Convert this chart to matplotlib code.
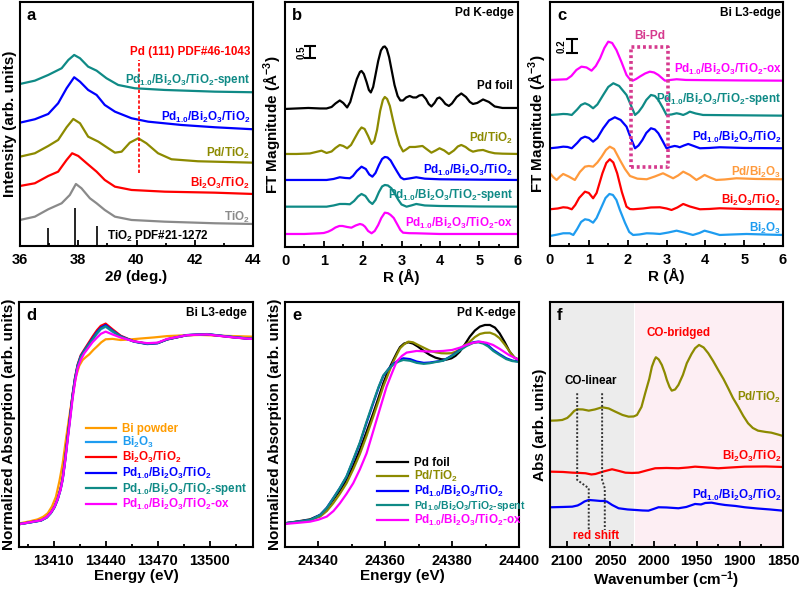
import matplotlib
matplotlib.use("Agg")
import matplotlib.pyplot as plt
from matplotlib.ticker import MultipleLocator

plt.rcParams['font.family'] = ['Liberation Sans', 'DejaVu Sans']
plt.rcParams['font.weight'] = 'bold'
plt.rcParams['mathtext.fontset'] = 'custom'
plt.rcParams['mathtext.rm'] = 'Liberation Sans:bold'
plt.rcParams['mathtext.bf'] = 'Liberation Sans:bold'
plt.rcParams['mathtext.it'] = 'Liberation Sans:italic:bold'
plt.rcParams['mathtext.default'] = 'bf'

PD_BI = r'Pd$_{1.0}$/Bi$_2$O$_3$/TiO$_2$'
BI_TI = r'Bi$_2$O$_3$/TiO$_2$'
PD_TI = r'Pd/TiO$_2$'
TIO2 = r'TiO$_2$'

C_TEAL = '#0f8a86'
C_OLIVE = '#8c8a00'
C_BLUE = '#0000ff'
C_RED = '#ff0000'
C_MAG = '#ff00ff'
C_GRAY = '#8a8a8a'
C_LBLUE = '#1e9cf0'
C_ORANGE = '#ff9a3c'
C_BIPOW = '#ff9c00'
C_BOX = '#d63a8e'

# ---------------- a: XRD ----------------
xrd_tio2_x = [36.0, 36.51, 36.97, 37.43, 37.71, 37.92, 38.11, 38.4, 38.63, 38.91, 39.26, 39.83, 40.97, 42.69, 44.0]
xrd_tio2_y = [26, 29.3, 36.7, 42.7, 51, 62, 57.7, 47.7, 42.7, 36, 29.3, 26, 24.3, 22.7, 22]
xrd_biti_x = [36.0, 36.51, 36.97, 37.31, 37.6, 37.79, 38.0, 38.29, 38.63, 38.91, 39.26, 39.83, 40.97, 42.69, 44.0]
xrd_biti_y = [60, 62.7, 70, 74.3, 86, 92.7, 90, 82.7, 74.3, 66, 59.3, 56, 54.3, 53.3, 52]
xrd_pdti_x = [36.0, 36.51, 36.97, 37.31, 37.6, 37.83, 38.06, 38.34, 38.69, 39.03, 39.26, 39.49, 39.77, 40.06, 40.34, 40.74, 41.2, 42.11, 44.0]
xrd_pdti_y = [89.3, 92.7, 100, 106, 118.7, 127, 122.7, 109.3, 104.3, 97.7, 93.3, 94.3, 103.3, 107.7, 102.7, 92.7, 86.7, 84.7, 83.3]
xrd_pdbi_x = [36.0, 36.51, 36.97, 37.31, 37.6, 37.86, 38.06, 38.34, 38.63, 38.91, 39.26, 39.83, 40.4, 41.54, 42.69, 44.0]
xrd_pdbi_y = [123.3, 126.7, 132, 142.7, 157.7, 168.7, 164.3, 156, 151, 141, 134.3, 127.7, 124.3, 121, 118.7, 116.7]
xrd_spent_x = [36.0, 36.51, 36.97, 37.43, 37.66, 37.86, 38.06, 38.34, 38.63, 38.97, 39.37, 39.94, 40.97, 42.69, 44.0]
xrd_spent_y = [162, 165.3, 171, 177.7, 186, 191, 187.7, 179.3, 175.3, 167.7, 161, 157.7, 156, 154.3, 153.7]
tio2_ref_pos = [36.97, 37.9, 38.65]
tio2_ref_h = [18, 38, 20]
pd111_pos = 40.1

# ---------------- b: Pd K-edge FT ----------------
b_foil_x = [0, 0.3, 0.6, 0.9, 1.07, 1.2, 1.3, 1.41, 1.5, 1.6, 1.68, 1.76, 1.85, 1.93, 1.97, 2.03, 2.1, 2.16, 2.21,
            2.27, 2.33, 2.4, 2.47, 2.53, 2.57, 2.62, 2.68, 2.75, 2.82, 2.9, 2.97, 3.04, 3.12, 3.21, 3.3, 3.38, 3.46,
            3.54, 3.63, 3.7, 3.77, 3.85, 3.92, 3.98, 4.05, 4.13, 4.22, 4.3, 4.42, 4.54, 4.66, 4.76, 4.84, 4.95, 5.1,
            5.25, 5.4, 5.6, 5.8, 6.0]
b_foil_y = [138, 138.5, 139, 138.5, 138.5, 140, 143.5, 146.5, 144, 139.5, 145, 156, 168, 175, 176, 173, 165, 157, 154.5,
            160, 172, 186, 196.5, 200, 200.5, 198, 190, 176, 162, 151, 146.5, 146.5, 149.5, 151, 149.5, 149.5, 151.5,
            152, 148, 143, 140.5, 144, 148.5, 149.5, 147, 143, 141, 143.5, 150, 153.5, 150, 145, 143, 144, 147.5,
            145, 140.5, 139, 139, 139]
b_pdti_x = [0, 0.3, 0.64, 0.8, 0.94, 1.07, 1.2, 1.3, 1.41, 1.5, 1.6, 1.7, 1.8, 1.9, 1.97, 2.05, 2.14, 2.23, 2.3, 2.37,
            2.45, 2.52, 2.57, 2.63, 2.7, 2.78, 2.86, 2.95, 3.04, 3.12, 3.21, 3.35, 3.54, 3.66, 3.77, 3.88, 3.98, 4.1,
            4.22, 4.35, 4.45, 4.54, 4.65, 4.75, 4.84, 4.97, 5.1, 5.25, 5.4, 5.6, 6.0]
b_pdti_y = [93, 93, 93.5, 95, 96.3, 94, 95.5, 99, 102, 101, 98.7, 102, 109, 116, 119.5, 118, 111, 103, 106, 117,
            136, 147, 150, 148, 141, 127, 114, 102, 95.5, 97.5, 100, 100, 101, 97.5, 94.3, 96.5, 98.7, 96.5,
            93, 96.5, 100.5, 102, 100, 97, 95.3, 96.5, 97, 95, 93.7, 93.3, 93]
b_pdbi_x = [0, 0.5, 1.07, 1.25, 1.41, 1.55, 1.67, 1.75, 1.85, 1.97, 2.08, 2.17, 2.25, 2.33, 2.42, 2.5, 2.57, 2.64,
            2.72, 2.8, 2.9, 2.98, 3.06, 3.2, 3.38, 3.6, 3.98, 4.5, 5.0, 6.0]
b_pdbi_y = [67, 67, 67, 68, 69.7, 69, 68.7, 71, 76, 80.3, 78, 72.5, 70.3, 74, 82, 88, 90, 89.5,
            86.5, 81, 74.5, 69.5, 67.7, 68.5, 69.7, 68.3, 67.7, 67.5, 67.3, 67]
b_spent_x = [0, 0.5, 1.07, 1.25, 1.41, 1.55, 1.67, 1.78, 1.88, 1.97, 2.07, 2.17, 2.25, 2.33, 2.42, 2.5, 2.57, 2.65,
             2.74, 2.83, 2.92, 3.0, 3.13, 3.25, 3.38, 3.6, 3.98, 5.0, 6.0]
b_spent_y = [40.3, 40.3, 40.3, 41.5, 43, 43, 42.7, 46, 50.5, 53, 51, 45.5, 43, 47, 55, 60.5, 62, 61.5,
             58.7, 53, 47, 42.5, 40.3, 41.5, 43, 41.5, 41, 40.5, 40.3]
b_ox_x = [0, 0.5, 0.9, 1.0, 1.11, 1.2, 1.3, 1.4, 1.48, 1.6, 1.71, 1.82, 1.93, 2.0, 2.06, 2.14, 2.23, 2.31, 2.4,
          2.48, 2.57, 2.65, 2.72, 2.8, 2.9, 2.97, 3.04, 3.2, 3.38, 3.98, 6.0]
b_ox_y = [13, 13, 13.7, 14, 15.3, 17, 19.5, 21, 21, 20, 19.3, 21.5, 23, 22.2, 20.3, 16, 13.7, 16, 22,
          29, 34.3, 33.8, 32, 29, 22, 17, 14.3, 13.8, 13.7, 13, 13]

# ---------------- c: Bi L3-edge FT ----------------
c_bi2o3_x = [0, 0.2, 0.34, 0.51, 0.6, 0.7, 0.8, 0.9, 1.0, 1.11, 1.2, 1.33, 1.43, 1.53, 1.62, 1.71, 1.8, 1.93, 2.04,
             2.14, 2.3, 2.49, 2.65, 2.83, 3.05, 3.26, 3.45, 3.68, 3.85, 3.98, 4.15, 4.37, 4.7, 5.06, 5.5, 6.0]
c_bi2o3_y = [10, 11.5, 12.7, 12.7, 11, 17, 24, 26.7, 26, 23.3, 28, 39.3, 48, 52, 51, 46, 36, 23.3, 14,
             11, 11.5, 12.7, 12.5, 12, 13.5, 15.3, 13.5, 11, 13, 15.3, 13.5, 11, 11.5, 12, 11.5, 11]
c_biti_x = [0, 0.2, 0.34, 0.45, 0.56, 0.65, 0.75, 0.9, 1.0, 1.11, 1.2, 1.35, 1.45, 1.54, 1.63, 1.73, 1.85, 1.97,
            2.06, 2.14, 2.4, 2.6, 2.83, 3.0, 3.13, 3.28, 3.43, 3.6, 3.86, 4.1, 4.37, 5.0, 6.0]
c_biti_y = [36.7, 37.5, 38.7, 38.3, 36.7, 41, 48, 54.3, 53, 47.7, 53, 72.7, 83, 86.7, 83.5, 72.7, 54, 39.3,
            36.9, 36.7, 37.5, 38.5, 38.7, 37.5, 36, 38.5, 42, 39.5, 36.7, 37, 37.7, 37, 36.7]
c_pdbi2o3_x = [0, 0.08, 0.17, 0.26, 0.34, 0.48, 0.64, 0.77, 0.9, 1.0, 1.11, 1.22, 1.33, 1.44, 1.54, 1.65, 1.8, 1.93,
               2.06, 2.25, 2.49, 2.7, 2.91, 3.05, 3.17, 3.3, 3.43, 3.6, 3.77, 3.88, 3.98, 4.12, 4.28, 4.5, 4.8,
               5.3, 6.0]
c_pdbi2o3_y = [72.7, 69, 66, 69.5, 72, 69.5, 66, 74, 79.3, 80, 79.3, 83.5, 89.3, 96, 99.3, 97, 86, 77,
               70, 67.3, 66.7, 69.5, 72.7, 70, 67.7, 70.5, 74.3, 71, 66, 68.5, 71, 68.5, 66, 66.5, 67.7,
               67, 66.7]
c_pdbi_x = [0, 0.2, 0.34, 0.45, 0.56, 0.7, 0.8, 0.9, 1.0, 1.11, 1.22, 1.37, 1.52, 1.67, 1.82, 1.97, 2.08, 2.19, 2.28,
            2.38, 2.48, 2.6, 2.7, 2.79, 2.9, 3.0, 3.1, 3.21, 3.28, 3.34, 3.45, 3.56, 3.7, 3.86, 4.1, 4.37, 5.0, 6.0]
c_pdbi_y = [97.7, 98.5, 99.3, 99, 97.7, 103, 107.5, 109.3, 108, 104.3, 108, 117.7, 125.5, 128.7, 126, 119.3, 108,
            97.7, 100.5, 106, 113, 117.7, 116.5, 112.7, 105, 97.7, 99, 100, 99.5, 98.7, 100.5, 102, 100, 97.7, 98,
            98.7, 98, 97.7]
c_spent_x = [0, 0.2, 0.34, 0.45, 0.56, 0.7, 0.8, 0.9, 1.0, 1.11, 1.22, 1.37, 1.5, 1.63, 1.78, 1.97, 2.08, 2.19, 2.28,
             2.38, 2.48, 2.6, 2.7, 2.79, 2.9, 3.0, 3.13, 3.26, 3.35, 3.43, 3.52, 3.6, 3.75, 3.94, 4.5, 6.0]
c_spent_y = [131, 131.5, 132, 131.8, 131, 136.5, 141, 142.7, 141, 137.7, 141.5, 151, 159, 162.7, 160, 151, 141, 131,
             134, 139.3, 146, 151, 150, 146, 138.5, 131, 131.5, 132.7, 132, 131, 132.5, 134.3, 132.5, 131, 130.8,
             130.3]
c_ox_x = [0, 0.2, 0.43, 0.55, 0.68, 0.81, 0.94, 1.07, 1.18, 1.29, 1.4, 1.5, 1.6, 1.71, 1.84, 1.97, 2.05, 2.13, 2.22,
          2.31, 2.45, 2.57, 2.68, 2.79, 2.88, 2.96, 3.1, 3.26, 3.5, 4.0, 5.0, 6.0]
c_ox_y = [166, 166.3, 166.7, 170, 176, 179.3, 178.5, 175.3, 180, 187.7, 198, 204.3, 203, 196, 184, 171, 167, 165.3,
          167, 169.3, 172.5, 174.3, 173.5, 171, 168, 165.3, 166, 166.7, 166, 165.8, 165.5, 165.3]
bipd_box_x = [2.08, 3.04]
bipd_box_y = [79.3, 199.3]

# ---------------- d: Bi L3 XANES ----------------
d_bipow_x = [13390.6, 13396, 13400.8, 13404, 13406.6, 13409, 13411.3, 13413.3, 13415.2, 13417, 13419.0, 13421,
             13422.8, 13424.8, 13426.7, 13428.5, 13430.5, 13433, 13435.3, 13437.5, 13440.0, 13444, 13448.7, 13454,
             13460.2, 13468, 13475.5, 13485, 13494.7, 13510, 13525]
d_bipow_y = [0.0, 0.01, 0.021, 0.035, 0.054, 0.09, 0.142, 0.225, 0.321, 0.445, 0.571, 0.69, 0.785, 0.845, 0.875,
             0.89, 0.905, 0.93, 0.95, 0.97, 0.986, 0.988, 0.982, 0.985, 0.99, 0.996, 1.003, 1.007, 1.009, 1.004, 1.0]
d_x = [13390.6, 13396, 13402.7, 13406, 13408.4, 13410.5, 13412.3, 13414, 13415.2, 13416.6, 13418.0, 13419.5,
       13420.9, 13422.3, 13423.8, 13425.6, 13427.6, 13430, 13432.4, 13435, 13437.2, 13440.0, 13443.9, 13448.7,
       13456.3, 13464.0, 13470, 13475.5, 13487.0, 13498.5, 13506, 13513.8, 13523.4, 13525]
d_bi2o3_y = [-0.004, 0.004, 0.014, 0.03, 0.054, 0.085, 0.125, 0.18, 0.232, 0.33, 0.446, 0.565, 0.678, 0.77, 0.839,
             0.89, 0.919, 0.95, 0.982, 1.015, 1.039, 1.053, 1.026, 1.0, 0.973, 0.96, 0.965, 0.986, 1.009, 1.014,
             1.006, 0.998, 0.99, 0.99]
d_biti_y = [-0.004, 0.005, 0.016, 0.033, 0.058, 0.09, 0.132, 0.188, 0.245, 0.345, 0.462, 0.58, 0.69, 0.78, 0.85,
            0.9, 0.93, 0.965, 1.0, 1.035, 1.058, 1.07, 1.04, 1.005, 0.975, 0.962, 0.966, 0.985, 1.008, 1.012, 1.004,
            0.996, 0.988, 0.988]
d_pdbi_y = [-0.004, 0.004, 0.015, 0.032, 0.056, 0.088, 0.13, 0.185, 0.24, 0.34, 0.455, 0.573, 0.685, 0.775, 0.845,
            0.895, 0.925, 0.958, 0.99, 1.025, 1.048, 1.062, 1.033, 1.002, 0.974, 0.961, 0.965, 0.985, 1.008, 1.013,
            1.005, 0.997, 0.988, 0.988]
d_spent_y = [-0.004, 0.004, 0.015, 0.031, 0.055, 0.086, 0.128, 0.183, 0.238, 0.337, 0.452, 0.57, 0.683, 0.773, 0.843,
             0.892, 0.922, 0.955, 0.985, 1.02, 1.043, 1.056, 1.03, 1.001, 0.974, 0.962, 0.966, 0.986, 1.008, 1.013,
             1.005, 0.997, 0.989, 0.989]
d_ox_y = [-0.004, 0.005, 0.016, 0.033, 0.057, 0.088, 0.13, 0.18, 0.236, 0.33, 0.44, 0.555, 0.665, 0.755, 0.83,
          0.875, 0.91, 0.94, 0.97, 0.995, 1.015, 1.027, 1.012, 0.995, 0.975, 0.965, 0.968, 0.988, 1.008, 1.012,
          1.004, 0.996, 0.988, 0.988]

# ---------------- e: Pd K XANES ----------------
e_x = [24330, 24334, 24337.5, 24340.5, 24342.5, 24344.4, 24346.4, 24348.4, 24350.4, 24352.4, 24354.4, 24356.4,
       24358, 24359.4, 24361, 24362.4, 24363.5, 24364.4, 24365.6, 24366.9, 24368.3, 24369.8, 24371.5, 24373.3,
       24375, 24376.8, 24378.3, 24379.8, 24381, 24382.3, 24383.8, 24385.3, 24386.8, 24388.3, 24389.8, 24391.3,
       24392.8, 24394.2, 24395.7, 24397.2, 24398.6, 24400]
e_foil_y = [0.0, 0.012, 0.024, 0.051, 0.09, 0.143, 0.2, 0.265, 0.35, 0.449, 0.56, 0.674, 0.77, 0.857, 0.94, 1.0,
            1.045, 1.078, 1.1, 1.108, 1.1, 1.081, 1.055, 1.031, 1.014, 1.004, 1.002, 1.01, 1.025, 1.051, 1.095,
            1.143, 1.18, 1.204, 1.214, 1.214, 1.198, 1.163, 1.11, 1.051, 1.015, 1.0]
e_pdti_y = [0.0, 0.01, 0.02, 0.041, 0.075, 0.122, 0.18, 0.245, 0.33, 0.424, 0.535, 0.653, 0.75, 0.837, 0.92, 0.99,
            1.035, 1.071, 1.095, 1.112, 1.108, 1.092, 1.075, 1.057, 1.047, 1.041, 1.04, 1.041, 1.05, 1.065, 1.09,
            1.112, 1.14, 1.159, 1.166, 1.167, 1.155, 1.133, 1.095, 1.051, 1.015, 1.0]
e_pdbi_x = [24330, 24334, 24337.5, 24340.5, 24342.5, 24344.4, 24346.4, 24348.4, 24350.4, 24352.4, 24354.4, 24356.4,
            24358, 24359.4, 24361, 24362.4, 24364, 24365.4, 24367.4, 24369.4, 24371.5, 24373.3, 24375.3, 24377.3,
            24379.8, 24382.3, 24384.3, 24386.3, 24387.8, 24389.3, 24390.8, 24392.3, 24394.2, 24396.2, 24398, 24400]
e_pdbi_y = [0.0, 0.01, 0.02, 0.051, 0.095, 0.153, 0.215, 0.285, 0.385, 0.49, 0.615, 0.735, 0.83, 0.902, 0.945, 0.976,
            0.998, 1.01, 1.005, 0.99, 0.982, 0.984, 0.99, 0.996, 1.025, 1.061, 1.09, 1.108, 1.112, 1.106, 1.088,
            1.061, 1.035, 1.01, 0.996, 0.99]
e_spent_y = [0.0, 0.01, 0.02, 0.05, 0.094, 0.152, 0.216, 0.287, 0.39, 0.495, 0.622, 0.742, 0.835, 0.905, 0.945, 0.972,
             0.99, 1.0, 0.995, 0.982, 0.976, 0.98, 0.988, 0.995, 1.022, 1.058, 1.085, 1.104, 1.108, 1.1, 1.082,
             1.055, 1.03, 1.005, 0.993, 0.988]
e_ox_x = [24330, 24334, 24337.5, 24340, 24342.5, 24344.5, 24346.4, 24348.4, 24350.4, 24352.4, 24354.4, 24355.9,
          24357.4, 24358.9, 24360.4, 24362, 24363.4, 24365, 24366.4, 24369.4, 24373.3, 24377.3, 24380, 24382.3,
          24384.3, 24386.3, 24388.3, 24390.3, 24392.2, 24394.2, 24397, 24400]
e_ox_y = [-0.004, 0.003, 0.01, 0.022, 0.041, 0.075, 0.122, 0.18, 0.245, 0.33, 0.428, 0.53, 0.633, 0.735, 0.837,
          0.92, 0.99, 1.025, 1.045, 1.055, 1.051, 1.055, 1.061, 1.075, 1.092, 1.105, 1.112, 1.105, 1.092, 1.068,
          1.03, 1.0]

# ---------------- f: CO-DRIFTS ----------------
f_pdti_x = [2119.2, 2112, 2105.8, 2100, 2096.2, 2092, 2088.5, 2082, 2075.1, 2068, 2059.6, 2052, 2044.3, 2036,
            2028.9, 2023, 2019.2, 2014, 2009.7, 2005, 2001.9, 1999, 1997.3, 1994, 1990.4, 1987, 1984.6, 1981.5,
            1978.9, 1975, 1971.2, 1966, 1961.5, 1956, 1951.9, 1947.3, 1942, 1936.6, 1931, 1925.1, 1919, 1913.5,
            1908, 1902.0, 1896, 1890.5, 1885, 1879.0, 1870, 1863.6, 1856, 1850.2]
f_pdti_y = [126.3, 126.5, 127, 129, 132, 136, 137.7, 137.5, 136.3, 137.5, 139.7, 138.5, 135.3, 132,
            130.3, 130.5, 132, 140, 153.7, 168, 180.3, 187, 189.7, 187.5, 182, 174, 167, 160,
            156.3, 157.5, 162, 172, 183.7, 193, 198.7, 202, 199.5, 193.7, 186, 177, 168, 158.7,
            149, 140.3, 131, 123.7, 119, 116.3, 115, 114.3, 112.5, 111]
f_biti_x = [2119.2, 2105, 2094.2, 2085, 2078.9, 2072, 2067.3, 2058, 2048.1, 2040, 2032.7, 2025, 2017.4, 2008, 1998.1,
            1985, 1971.2, 1960, 1951.9, 1938, 1925.1, 1910, 1894.3, 1870, 1850.2]
f_biti_y = [75.3, 75, 74.3, 74, 73.7, 72.5, 73, 75.5, 77.7, 76, 74.3, 74, 74.3, 76.5, 78.7,
            79, 78.7, 79.5, 80.3, 79.5, 78.7, 79.5, 80.3, 80.5, 80]
f_pdbi_x = [2119.2, 2105, 2094.2, 2088, 2084.6, 2080, 2075.1, 2068, 2061.6, 2057, 2053.9, 2048, 2040.5, 2030, 2021.2,
            2013, 2005.9, 2000, 1994.3, 1985, 1971.2, 1962, 1951.9, 1945, 1940, 1932.7, 1925, 1917.3, 1905, 1894.3,
            1880, 1865, 1850.2]
f_pdbi_y = [39.7, 40, 40.3, 41.5, 43, 45.5, 47, 46.5, 46, 46, 45.3, 42, 38.7, 37.5, 37,
            36.5, 36.3, 38, 39.7, 39.5, 38.7, 40, 43, 42.5, 44, 44.3, 43, 42, 41, 39.7,
            38.5, 37.5, 36.3]
linear_guide1_x = [2088.5, 2088.5, 2075.1, 2075.1]
linear_guide2_x = [2059.6, 2059.6, 2056.5, 2056.5]
linear_guide_y = [153.7, 67, 58.7, 17]
gray_band = (2120, 2023)
pink_band = (2021, 1850)


def style_axis(ax, letter, xlabel, ylabel):
    for sp in ax.spines.values():
        sp.set_linewidth(1.5)
    ax.tick_params(axis='x', which='both', direction='in', labelsize=10.5, width=1.3)
    ax.tick_params(axis='x', which='major', length=4, pad=5)
    ax.tick_params(axis='x', which='minor', length=2.5)
    ax.set_yticks([])
    ax.set_xlabel(xlabel, fontsize=11, fontweight='bold', labelpad=1)
    ax.set_ylabel(ylabel, fontsize=11, fontweight='bold', labelpad=2)
    ax.text(0.03, 0.975, letter, transform=ax.transAxes, fontsize=12,
            fontweight='bold', va='top', ha='left')


fig = plt.figure(figsize=(8, 5.91), dpi=100)
lw = 1.6
fs = 8.4
fs_edge = 8.6

# a
ax = fig.add_axes([0.025, 0.5838, 0.29125, 0.4129])
ax.plot(xrd_tio2_x, xrd_tio2_y, color=C_GRAY, lw=lw)
ax.plot(xrd_biti_x, xrd_biti_y, color=C_RED, lw=lw)
ax.plot(xrd_pdti_x, xrd_pdti_y, color=C_OLIVE, lw=lw)
ax.plot(xrd_pdbi_x, xrd_pdbi_y, color=C_BLUE, lw=lw)
ax.plot(xrd_spent_x, xrd_spent_y, color=C_TEAL, lw=lw)
ax.vlines(tio2_ref_pos, 0, tio2_ref_h, color='black', lw=1.2)
ax.plot([pd111_pos, pd111_pos], [73, 186], color=C_RED, lw=1.2, ls=(0, (2, 1.2)))
ax.set_xlim(36, 44)
ax.set_ylim(0, 244)
ax.xaxis.set_major_locator(MultipleLocator(2))
ax.xaxis.set_minor_locator(MultipleLocator(1))
style_axis(ax, 'a', r'2$\mathit{\theta}$ (deg.)', 'Intensity (arb. units)')
ax.text(43.9, 194, 'Pd (111) PDF#46-1043', color=C_RED, fontsize=fs, ha='right', va='center')
ax.text(43.9, 166, PD_BI + '-spent', color=C_TEAL, fontsize=fs, ha='right', va='center')
ax.text(43.9, 129, PD_BI, color=C_BLUE, fontsize=fs, ha='right', va='center')
ax.text(43.9, 93, PD_TI, color=C_OLIVE, fontsize=fs, ha='right', va='center')
ax.text(43.9, 63, BI_TI, color=C_RED, fontsize=fs, ha='right', va='center')
ax.text(43.9, 29, TIO2, color=C_GRAY, fontsize=fs, ha='right', va='center')
ax.text(39.0, 10, TIO2 + ' PDF#21-1272', color='black', fontsize=fs, ha='left', va='center')

# b
ax = fig.add_axes([0.35625, 0.5821, 0.29125, 0.4146])
ax.plot(b_foil_x, b_foil_y, color='black', lw=lw)
ax.plot(b_pdti_x, b_pdti_y, color=C_OLIVE, lw=lw)
ax.plot(b_pdbi_x, b_pdbi_y, color=C_BLUE, lw=lw)
ax.plot(b_spent_x, b_spent_y, color=C_TEAL, lw=lw)
ax.plot(b_ox_x, b_ox_y, color=C_MAG, lw=lw)
ax.set_xlim(0, 6)
ax.set_ylim(0, 245)
ax.xaxis.set_major_locator(MultipleLocator(1))
ax.xaxis.set_minor_locator(MultipleLocator(0.5))
style_axis(ax, 'b', 'R (Å)', r'FT Magnitude (Å$^{-3}$)')
ax.errorbar(0.65, 195, yerr=6, color='black', capsize=4, lw=1.5, capthick=1.5)
ax.text(0.42, 195, '0.5', rotation=90, fontsize=7, ha='center', va='center')
ax.text(5.9, 234, 'Pd K-edge', fontsize=fs_edge, ha='right', va='center')
ax.text(5.87, 161, 'Pd foil', color='black', fontsize=fs, ha='right', va='center')
ax.text(5.87, 109, PD_TI, color=C_OLIVE, fontsize=fs, ha='right', va='center')
ax.text(5.87, 77, PD_BI, color=C_BLUE, fontsize=fs, ha='right', va='center')
ax.text(5.87, 52, PD_BI + '-spent', color=C_TEAL, fontsize=fs, ha='right', va='center')
ax.text(5.87, 24, PD_BI + '-ox', color=C_MAG, fontsize=fs, ha='right', va='center')

# c
ax = fig.add_axes([0.6875, 0.5838, 0.29125, 0.4129])
ax.plot(c_bi2o3_x, c_bi2o3_y, color=C_LBLUE, lw=lw)
ax.plot(c_biti_x, c_biti_y, color=C_RED, lw=lw)
ax.plot(c_pdbi2o3_x, c_pdbi2o3_y, color=C_ORANGE, lw=lw)
ax.plot(c_pdbi_x, c_pdbi_y, color=C_BLUE, lw=lw)
ax.plot(c_spent_x, c_spent_y, color=C_TEAL, lw=lw)
ax.plot(c_ox_x, c_ox_y, color=C_MAG, lw=lw)
bx0, bx1 = bipd_box_x
by0, by1 = bipd_box_y
ax.plot([bx0, bx1, bx1, bx0, bx0], [by0, by0, by1, by1, by0], color=C_BOX, lw=2.6, ls=(0, (0.8, 0.8)))
ax.text((bx0 + bx1) / 2, by1 + 11, 'Bi-Pd', color=C_BOX, fontsize=8.6, ha='center', va='center')
ax.set_xlim(0, 6)
ax.set_ylim(0, 244)
ax.xaxis.set_major_locator(MultipleLocator(1))
ax.xaxis.set_minor_locator(MultipleLocator(0.5))
style_axis(ax, 'c', 'R (Å)', r'FT Magnitude (Å$^{-3}$)')
ax.errorbar(0.56, 200, yerr=7, color='black', capsize=4, lw=1.5, capthick=1.5)
ax.text(0.3, 200, '0.2', rotation=90, fontsize=7, ha='center', va='center')
ax.text(5.93, 233, 'Bi L3-edge', fontsize=fs_edge, ha='right', va='center')
ax.text(5.95, 177, PD_BI + '-ox', color=C_MAG, fontsize=fs, ha='right', va='center')
ax.text(5.95, 147, PD_BI + '-spent', color=C_TEAL, fontsize=fs, ha='right', va='center')
ax.text(5.95, 109, PD_BI, color=C_BLUE, fontsize=fs, ha='right', va='center')
ax.text(5.95, 74, r'Pd/Bi$_2$O$_3$', color=C_ORANGE, fontsize=fs, ha='right', va='center')
ax.text(5.95, 46, BI_TI, color=C_RED, fontsize=fs, ha='right', va='center')
ax.text(5.95, 18, r'Bi$_2$O$_3$', color=C_LBLUE, fontsize=fs, ha='right', va='center')

# d
ax = fig.add_axes([0.02375, 0.0745, 0.2925, 0.4146])
ax.plot(d_bipow_x, d_bipow_y, color=C_BIPOW, lw=lw, label='Bi powder')
ax.plot(d_x, d_bi2o3_y, color=C_LBLUE, lw=lw, label=r'Bi$_2$O$_3$')
ax.plot(d_x, d_biti_y, color=C_RED, lw=lw, label=BI_TI)
ax.plot(d_x, d_pdbi_y, color=C_BLUE, lw=lw, label=PD_BI)
ax.plot(d_x, d_spent_y, color=C_TEAL, lw=lw, label=PD_BI + '-spent')
ax.plot(d_x, d_ox_y, color=C_MAG, lw=lw, label=PD_BI + '-ox')
ax.set_xlim(13390, 13525)
ax.set_ylim(-0.127, 1.186)
ax.set_xticks([13410, 13440, 13470, 13500])
ax.xaxis.set_minor_locator(MultipleLocator(15))
style_axis(ax, 'd', 'Energy (eV)', 'Normalized Absorption (arb. units)')
ax.text(0.975, 0.955, 'Bi L3-edge', transform=ax.transAxes, fontsize=fs_edge, ha='right', va='center')
ax.legend(loc='upper left', bbox_to_anchor=(0.24, 0.55), frameon=False, fontsize=fs,
          labelcolor='linecolor', handlelength=2.6, handletextpad=0.5, labelspacing=0.02)

# e
ax = fig.add_axes([0.35625, 0.0745, 0.2925, 0.4146])
ax.plot(e_x, e_foil_y, color='black', lw=lw, label='Pd foil')
ax.plot(e_x, e_pdti_y, color=C_OLIVE, lw=lw, label=PD_TI)
ax.plot(e_pdbi_x, e_pdbi_y, color=C_BLUE, lw=lw, label=PD_BI)
ax.plot(e_pdbi_x, e_spent_y, color=C_TEAL, lw=lw, label=PD_BI + '-spent')
ax.plot(e_ox_x, e_ox_y, color=C_MAG, lw=lw, label=PD_BI + '-ox')
ax.set_xlim(24330, 24400)
ax.set_ylim(-0.145, 1.355)
ax.xaxis.set_major_locator(MultipleLocator(20))
ax.xaxis.set_minor_locator(MultipleLocator(10))
style_axis(ax, 'e', 'Energy (eV)', 'Normalized Absorption (arb. units)')
ax.text(0.985, 0.955, 'Pd K-edge', transform=ax.transAxes, fontsize=fs_edge, ha='right', va='center')
leg = ax.legend(loc='upper left', bbox_to_anchor=(0.35, 0.41), frameon=False, fontsize=fs,
                labelcolor='linecolor', handlelength=2.6, handletextpad=0.5, labelspacing=0.0)
leg.get_texts()[3].set_fontsize(7.5)

# f
ax = fig.add_axes([0.6875, 0.0745, 0.29125, 0.4146])
ax.axvspan(*gray_band, color='#ececec', lw=0)
ax.axvspan(*pink_band, color='#fdeef3', lw=0)
ax.plot(f_pdti_x, f_pdti_y, color=C_OLIVE, lw=lw)
ax.plot(f_biti_x, f_biti_y, color=C_RED, lw=lw)
ax.plot(f_pdbi_x, f_pdbi_y, color=C_BLUE, lw=lw)
ax.plot(linear_guide1_x, linear_guide_y, color='#333333', lw=1.4, ls=(0, (1, 1)))
ax.plot(linear_guide2_x, linear_guide_y, color='#333333', lw=1.4, ls=(0, (1, 1)))
ax.set_xlim(2120, 1850)
ax.set_ylim(0, 245)
ax.xaxis.set_major_locator(MultipleLocator(50))
ax.xaxis.set_minor_locator(MultipleLocator(25))
style_axis(ax, 'f', r'Wavenumber (cm$^{-1}$)', 'Abs (arb. units)')
ax.text(2073, 166, 'CO-linear', color='black', fontsize=fs, ha='center', va='center')
ax.text(2067, 11, 'red shift', color=C_RED, fontsize=fs, ha='center', va='center')
ax.text(1971, 214, 'CO-bridged', color=C_RED, fontsize=fs, ha='center', va='center')
ax.text(1852, 150, PD_TI, color=C_OLIVE, fontsize=fs, ha='right', va='center')
ax.text(1852, 91, BI_TI, color=C_RED, fontsize=fs, ha='right', va='center')
ax.text(1852, 52, PD_BI, color=C_BLUE, fontsize=fs, ha='right', va='center')

fig.savefig('out.png', dpi=100)
